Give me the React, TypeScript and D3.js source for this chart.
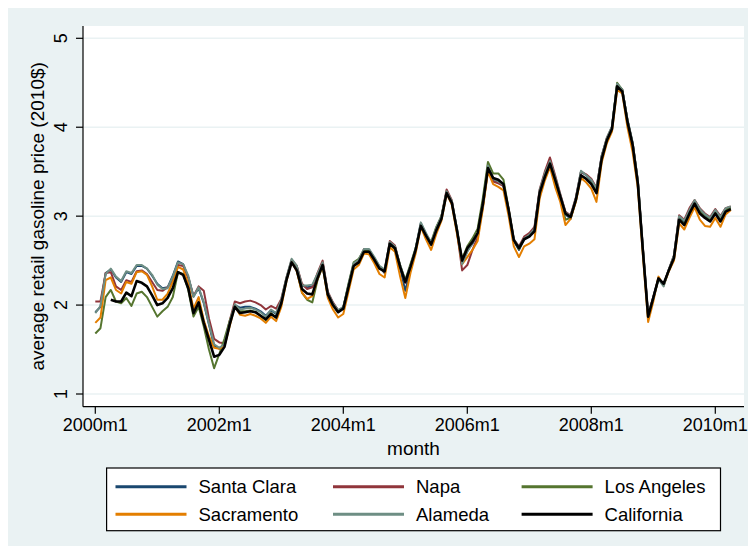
import * as d3 from 'd3'

// monthly prices, 2000m1 .. 2010m4 (124 months), 2010 dollars
const santaClara = [
  1.92, 1.98, 2.36, 2.40, 2.31, 2.26, 2.37, 2.35, 2.44, 2.44, 2.41, 2.33,
  2.24, 2.19, 2.20, 2.33, 2.49, 2.46, 2.31, 2.10, 2.19, 2.02, 1.78, 1.54,
  1.51, 1.55, 1.80, 2.00, 1.97, 1.98, 1.98, 1.96, 1.93, 1.88, 1.94, 1.90,
  2.05, 2.30, 2.50, 2.43, 2.22, 2.20, 2.21, 2.34, 2.47, 2.13, 2.02, 1.94,
  1.97, 2.22, 2.46, 2.50, 2.62, 2.62, 2.53, 2.43, 2.36, 2.70, 2.66, 2.42,
  2.16, 2.40, 2.63, 2.92, 2.80, 2.68, 2.86, 2.99, 3.28, 3.16, 2.86, 2.47,
  2.61, 2.69, 2.80, 3.12, 3.56, 3.40, 3.38, 3.34, 3.06, 2.72, 2.62, 2.74,
  2.78, 2.85, 3.28, 3.47, 3.62, 3.43, 3.22, 3.02, 2.97, 3.19, 3.50, 3.46,
  3.40, 3.30, 3.68, 3.87, 4.00, 4.48, 4.42, 4.08, 3.82, 3.40, 2.62, 1.88,
  2.09, 2.30, 2.22, 2.40, 2.55, 2.99, 2.94, 3.07, 3.17, 3.07, 3.01, 2.97,
  3.06, 2.98, 3.08, 3.10,
]
const napa = [
  2.04, 2.04, 2.36, 2.37, 2.21, 2.17, 2.28, 2.26, 2.38, 2.39, 2.35, 2.26,
  2.17, 2.16, 2.20, 2.28, 2.45, 2.44, 2.31, 2.10, 2.21, 2.16, 1.85, 1.62,
  1.58, 1.57, 1.82, 2.04, 2.02, 2.04, 2.05, 2.03, 2.00, 1.95, 1.99, 1.96,
  2.07, 2.31, 2.51, 2.44, 2.24, 2.18, 2.20, 2.36, 2.50, 2.15, 2.03, 1.94,
  1.97, 2.21, 2.45, 2.50, 2.63, 2.62, 2.52, 2.43, 2.37, 2.72, 2.67, 2.44,
  2.25, 2.42, 2.62, 2.91, 2.79, 2.69, 2.86, 3.00, 3.30, 3.18, 2.83, 2.39,
  2.45, 2.62, 2.76, 3.10, 3.52, 3.39, 3.37, 3.34, 3.08, 2.74, 2.66, 2.77,
  2.81, 2.88, 3.30, 3.50, 3.66, 3.46, 3.25, 3.05, 3.01, 3.21, 3.50, 3.47,
  3.42, 3.32, 3.67, 3.88, 4.00, 4.47, 4.42, 4.08, 3.82, 3.40, 2.63, 1.89,
  2.09, 2.30, 2.23, 2.40, 2.56, 3.01, 2.96, 3.09, 3.18, 3.09, 3.03, 2.99,
  3.08, 3.00, 3.09, 3.11,
]
const losAngeles = [
  1.68, 1.74, 2.09, 2.17, 2.04, 2.02, 2.08, 1.99, 2.13, 2.15, 2.09, 1.98,
  1.87, 1.93, 1.98, 2.09, 2.37, 2.35, 2.17, 1.87, 1.98, 1.76, 1.50, 1.29,
  1.45, 1.62, 1.82, 1.99, 1.93, 1.93, 1.94, 1.92, 1.88, 1.83, 1.91, 1.86,
  2.03, 2.29, 2.49, 2.39, 2.14, 2.06, 2.03, 2.28, 2.44, 2.11, 2.00, 1.92,
  1.97, 2.24, 2.48, 2.52, 2.62, 2.61, 2.51, 2.41, 2.39, 2.68, 2.63, 2.45,
  2.28, 2.46, 2.64, 2.89, 2.79, 2.71, 2.88, 3.00, 3.27, 3.15, 2.84, 2.52,
  2.66, 2.75, 2.86, 3.20, 3.61, 3.48, 3.48, 3.41, 3.08, 2.73, 2.63, 2.74,
  2.78, 2.84, 3.25, 3.43, 3.58, 3.39, 3.20, 2.96, 2.98, 3.17, 3.45, 3.42,
  3.37, 3.28, 3.64, 3.86, 3.99, 4.50, 4.42, 4.07, 3.80, 3.38, 2.60, 1.86,
  2.08, 2.29, 2.23, 2.39, 2.53, 2.97, 2.91, 3.05, 3.15, 3.05, 2.99, 2.96,
  3.05, 2.96, 3.07, 3.09,
]
const sacramento = [
  1.80, 1.86, 2.28, 2.31, 2.17, 2.13, 2.26, 2.24, 2.37, 2.38, 2.34, 2.21,
  2.06, 2.06, 2.13, 2.26, 2.43, 2.40, 2.24, 1.96, 2.09, 1.83, 1.65, 1.52,
  1.51, 1.54, 1.76, 1.99, 1.89, 1.88, 1.90, 1.88, 1.85, 1.80, 1.87, 1.82,
  1.98, 2.27, 2.49, 2.38, 2.14, 2.07, 2.10, 2.29, 2.44, 2.08, 1.95, 1.86,
  1.90, 2.15, 2.40, 2.45, 2.58, 2.57, 2.47, 2.35, 2.31, 2.65, 2.60, 2.32,
  2.08, 2.36, 2.58, 2.88, 2.74, 2.62, 2.80, 2.95, 3.25, 3.13, 2.80, 2.46,
  2.54, 2.62, 2.72, 3.08, 3.50, 3.36, 3.33, 3.29, 3.00, 2.66, 2.54, 2.66,
  2.69, 2.74, 3.20, 3.40, 3.55, 3.33, 3.16, 2.90, 2.97, 3.16, 3.43, 3.38,
  3.31, 3.16, 3.60, 3.82, 3.95, 4.42, 4.38, 4.00, 3.72, 3.32, 2.55, 1.81,
  2.04, 2.32, 2.22, 2.38, 2.50, 2.92, 2.85, 2.98, 3.10, 2.96, 2.89, 2.88,
  2.98, 2.88, 3.02, 3.07,
]
const alameda = [
  1.91, 1.99, 2.35, 2.41, 2.32, 2.27, 2.38, 2.36, 2.45, 2.45, 2.41, 2.34,
  2.23, 2.18, 2.19, 2.32, 2.48, 2.46, 2.33, 2.09, 2.20, 2.03, 1.79, 1.56,
  1.52, 1.56, 1.80, 2.01, 1.95, 1.96, 1.97, 1.95, 1.92, 1.87, 1.95, 1.91,
  2.06, 2.31, 2.52, 2.44, 2.22, 2.22, 2.23, 2.35, 2.48, 2.14, 2.02, 1.94,
  1.98, 2.23, 2.47, 2.51, 2.63, 2.63, 2.54, 2.44, 2.40, 2.71, 2.66, 2.45,
  2.27, 2.44, 2.64, 2.93, 2.81, 2.70, 2.87, 3.00, 3.28, 3.17, 2.86, 2.46,
  2.60, 2.70, 2.81, 3.13, 3.57, 3.42, 3.39, 3.35, 3.07, 2.74, 2.65, 2.75,
  2.79, 2.86, 3.29, 3.48, 3.62, 3.44, 3.24, 3.04, 3.00, 3.20, 3.51, 3.46,
  3.41, 3.31, 3.67, 3.88, 4.01, 4.49, 4.42, 4.09, 3.83, 3.41, 2.63, 1.89,
  2.08, 2.29, 2.21, 2.40, 2.56, 3.00, 2.95, 3.07, 3.18, 3.08, 3.02, 2.98,
  3.07, 2.99, 3.09, 3.11,
]
// state average starts in 2000m4
const california = [
  null, null, null, 2.06, 2.04, 2.04, 2.14, 2.10, 2.27, 2.25, 2.21, 2.11,
  2.00, 2.02, 2.08, 2.19, 2.37, 2.34, 2.19, 1.91, 2.03, 1.80, 1.61, 1.42,
  1.44, 1.53, 1.78, 1.98, 1.91, 1.92, 1.93, 1.92, 1.88, 1.84, 1.90, 1.86,
  2.02, 2.28, 2.48, 2.39, 2.18, 2.13, 2.12, 2.30, 2.45, 2.12, 2.00, 1.92,
  1.96, 2.20, 2.44, 2.48, 2.60, 2.60, 2.51, 2.41, 2.38, 2.69, 2.64, 2.43,
  2.26, 2.43, 2.62, 2.89, 2.78, 2.68, 2.84, 2.97, 3.26, 3.15, 2.84, 2.50,
  2.64, 2.71, 2.81, 3.13, 3.54, 3.43, 3.41, 3.36, 3.07, 2.73, 2.64, 2.74,
  2.77, 2.83, 3.26, 3.44, 3.59, 3.41, 3.22, 3.03, 2.99, 3.18, 3.46, 3.42,
  3.36, 3.26, 3.64, 3.85, 3.98, 4.46, 4.40, 4.06, 3.80, 3.37, 2.60, 1.87,
  2.08, 2.30, 2.24, 2.39, 2.53, 2.96, 2.90, 3.03, 3.14, 3.03, 2.98, 2.94,
  3.03, 2.94, 3.05, 3.08,
]

const xTickMonths = [0, 24, 48, 72, 96, 120]
const xTickLabels = ['2000m1', '2002m1', '2004m1', '2006m1', '2008m1', '2010m1']
const yTicks = [1, 2, 3, 4, 5]

const series = [
  { name: 'Santa Clara', color: '#1a476f', values: santaClara, w: 2 },
  { name: 'Napa', color: '#90353b', values: napa, w: 2 },
  { name: 'Los Angeles', color: '#55752f', values: losAngeles, w: 2 },
  { name: 'Sacramento', color: '#e37e00', values: sacramento, w: 2 },
  { name: 'Alameda', color: '#6e8e84', values: alameda, w: 2 },
  { name: 'California', color: '#000000', values: california, w: 2.6 },
]

const font = '"Liberation Sans", Arial, Helvetica, sans-serif'

export default function App() {
  const W = 740
  const H = 540
  const plot = { left: 75, right: 736, top: 20, bottom: 400.7 }

  const x = d3.scaleLinear().domain([0, 120]).range([87.3, 707.3])
  const y = d3.scaleLinear().domain([1, 5]).range([388, 32.3])

  const line = d3.line<number | null>()
    .defined(d => d != null)
    .x((_, i) => x(i))
    .y(d => y(d as number))

  const legendCols = [107.5, 325, 513.6]
  const legendRows = [480.7, 508.3]

  return (
    <svg width={W} height={H} style={{ display: 'block', marginTop: -2 }} fontFamily={font}>
      <rect x={0} y={0} width={W} height={H} fill="#eaf2f3" />
      <rect x={plot.left} y={plot.top} width={plot.right - plot.left} height={plot.bottom - plot.top} fill="#ffffff" />

      {yTicks.map(t => (
        <line key={'g' + t} x1={plot.left} x2={plot.right} y1={y(t)} y2={y(t)} stroke="#eaf2f3" strokeWidth={1.5} />
      ))}

      {series.map(s => (
        <path key={s.name} d={line(s.values) ?? ''} fill="none" stroke={s.color} strokeWidth={s.w} strokeLinejoin="round" />
      ))}

      {/* axes */}
      <line x1={plot.left} x2={plot.left} y1={plot.top} y2={plot.bottom} stroke="#000" strokeWidth={1.2} />
      <line x1={plot.left} x2={plot.right} y1={plot.bottom} y2={plot.bottom} stroke="#000" strokeWidth={1.2} />

      {yTicks.map(t => (
        <g key={'y' + t}>
          <line x1={plot.left - 7} x2={plot.left} y1={y(t)} y2={y(t)} stroke="#000" strokeWidth={1.2} />
          <text transform={`translate(59,${y(t)}) rotate(-90)`} textAnchor="middle" fontSize={18} fill="#000">{t}</text>
        </g>
      ))}

      {xTickMonths.map((m, i) => (
        <g key={'x' + m}>
          <line x1={x(m)} x2={x(m)} y1={plot.bottom} y2={plot.bottom + 7} stroke="#000" strokeWidth={1.2} />
          <text x={x(m)} y={425} textAnchor="middle" fontSize={18} fill="#000">{xTickLabels[i]}</text>
        </g>
      ))}

      <text x={(plot.left + plot.right) / 2} y={449} textAnchor="middle" fontSize={19} fill="#000">month</text>
      <text transform={`translate(36,${(plot.top + plot.bottom) / 2}) rotate(-90)`} textAnchor="middle" fontSize={19} fill="#000">
        average retail gasoline price (2010$)
      </text>

      {/* legend */}
      <rect x={98.6} y={462} width={613.9} height={62.7} fill="#ffffff" stroke="#000" strokeWidth={1.2} />
      {series.map((s, i) => {
        const order = [0, 1, 2, 3, 4, 5]
        const col = order[i] % 3
        const row = Math.floor(order[i] / 3)
        const lx = legendCols[col]
        const ly = legendRows[row]
        return (
          <g key={'l' + s.name}>
            <line x1={lx} x2={lx + 71} y1={ly} y2={ly} stroke={s.color} strokeWidth={3} />
            <text x={lx + 83} y={ly + 6.3} fontSize={18.5} fill="#000">{s.name}</text>
          </g>
        )
      })}
    </svg>
  )
}
